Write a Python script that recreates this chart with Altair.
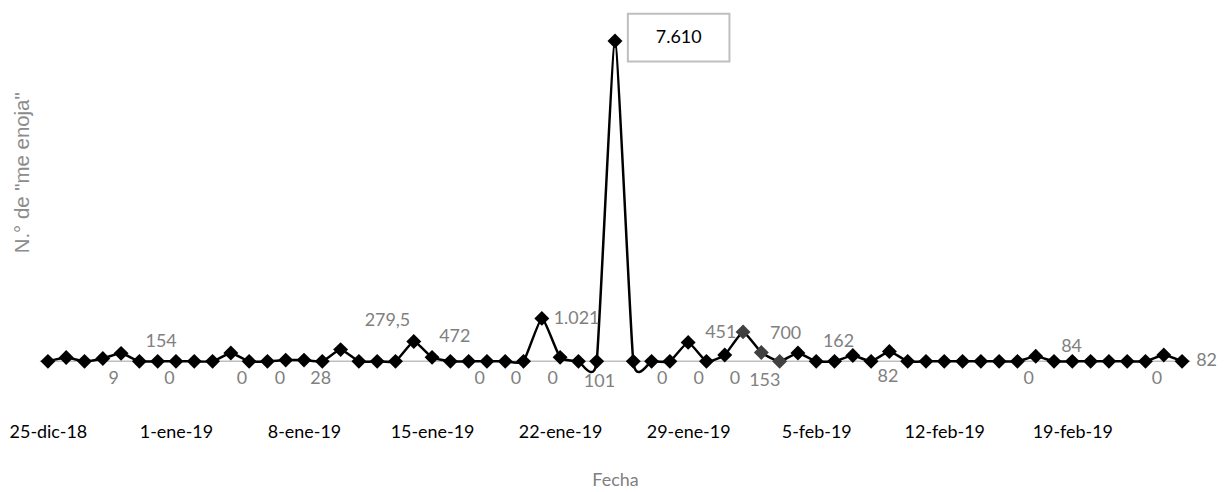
import altair as alt
import pandas as pd

# ---- data ----
start_date = "2018-12-25"
end_date = "2019-02-25"
valores = [0, 90, 0, 70, 190, 0, 0, 0, 0, 0,
           200, 0, 0, 30, 30, 0, 279.5, 0, 0, 0,
           472, 95, 0, 0, 0, 0, 0, 1021, 95, 0,
           0, 7610, 0, 0, 0, 451, 0, 153, 700, 210,
           0, 200, 0, 0, 140, 0, 235, 0, 0, 0,
           0, 0, 0, 0, 120, 0, 0, 0, 0, 0,
           0, 150, 0]
dias_gris = [38, 39, 40]  # markers drawn dark grey

tick_dias = [0, 7, 14, 21, 28, 35, 42, 49, 56]
tick_textos = ["25-dic-18", "1-ene-19", "8-ene-19", "15-ene-19", "22-ene-19",
               "29-ene-19", "5-feb-19", "12-feb-19", "19-feb-19"]

etiqueta_textos = ["154", "9", "0", "0", "0", "28", "279,5", "472", "0", "0", "0",
                   "1.021", "101", "0", "0", "451", "0", "153", "700", "162", "82",
                   "0", "84", "0", "82"]
etiqueta_dias = [6.19, 3.59, 6.64, 10.61, 12.68, 14.91, 18.56, 22.24, 23.60, 25.58, 27.59,
                 28.90, 30.15, 33.58, 35.58, 36.78, 37.56, 39.19, 40.33, 43.22, 45.92,
                 53.61, 55.96, 60.62, 63.34]
etiqueta_niveles = [449, -425, -425, -425, -425, -425, 969, 567, -425, -425, -425,
                    1016, -496, -425, -425, 685, -425, -473, 638, 449, -378,
                    -425, 338, -425, 0]

pico_texto = ["7.610"]
pico_dia = [34.48]
pico_nivel = [7691]

# ---- tables ----
fechas = pd.date_range(start_date, end_date, freq="D")
df = pd.DataFrame({"dia": list(range(len(valores))),
                   "fecha": fechas.strftime("%Y-%m-%d"),
                   "valor": valores})
df_lab = pd.DataFrame({"dia": etiqueta_dias, "valor": etiqueta_niveles, "texto": etiqueta_textos})
df_pico = pd.DataFrame({"dia": pico_dia, "valor": pico_nivel, "texto": pico_texto})
df_base = pd.DataFrame({"valor": [0]})

W, H = 1155, 410

label_expr = "[" + ",".join("'%s'" % t for t in tick_textos) + "][round(datum.value/7)]"

x_enc = alt.X("dia:Q",
              scale=alt.Scale(domain=[-0.44, 62.44], nice=False, zero=False),
              axis=alt.Axis(values=tick_dias, labelExpr=label_expr, ticks=False, domain=False,
                            grid=False, labelFont="Lato", labelFontSize=18, labelColor="black",
                            labelPadding=3, labelFlush=False, labelOverlap=False,
                            title="Fecha", titleFont="Lato", titleFontSize=18,
                            titleFontWeight="normal", titleColor="#808080", titlePadding=30))
y_enc = alt.Y("valor:Q",
              scale=alt.Scale(domain=[-1400, 8300], nice=False, zero=False),
              axis=alt.Axis(labels=False, ticks=False, domain=False, grid=False,
                            title='N.° de "me enoja"', titleFont="Liberation Sans",
                            titleFontSize=20.5, titleFontWeight="normal", titleColor="#8c8c8c",
                            titleX=-17, titleY=161, titleAlign="center",
                            titleBaseline="middle", titleAngle=270))

base = alt.Chart(df_base).mark_rule(color="#bfbfbf", strokeWidth=1.5).encode(
    y=y_enc, x=alt.value(0), x2=alt.value(W))

linea = alt.Chart(df).mark_line(interpolate="cardinal", tension=0.55, color="black",
                                strokeWidth=2.5).encode(x=x_enc, y=y_enc)

puntos = alt.Chart(df).mark_point(shape="diamond", filled=True, size=225, opacity=1).encode(
    x=x_enc, y=y_enc,
    color=alt.condition(alt.FieldOneOfPredicate(field="dia", oneOf=dias_gris),
                        alt.value("#404040"), alt.value("black")))

etiquetas = alt.Chart(df_lab).mark_text(font="Lato", fontSize=18, color="#808080",
                                        align="center", baseline="middle").encode(
    x=x_enc, y=y_enc, text="texto:N")

caja_path = "M-1,-0.47L1,-0.47L1,0.47L-1,0.47Z"
caja = alt.Chart(df_pico).mark_point(shape=caja_path, size=102 * 102, filled=False,
                                     fill="white", stroke="#bfbfbf", strokeWidth=2,
                                     opacity=1, fillOpacity=1).encode(x=x_enc, y=y_enc)

pico = alt.Chart(df_pico).mark_text(font="Lato", fontSize=18, color="black",
                                    align="center", baseline="middle").encode(
    x=x_enc, y=y_enc, text="texto:N")

chart = alt.layer(base, linea, puntos, etiquetas, caja, pico).properties(
    width=W, height=H,
    autosize=alt.AutoSizeParams(type="none"),
    padding={"left": 32, "top": 3, "right": 30, "bottom": 70},
    background="white",
).configure_view(strokeWidth=0, stroke=None)

chart.save("out.html", embed_options={"renderer": "svg", "actions": False})
